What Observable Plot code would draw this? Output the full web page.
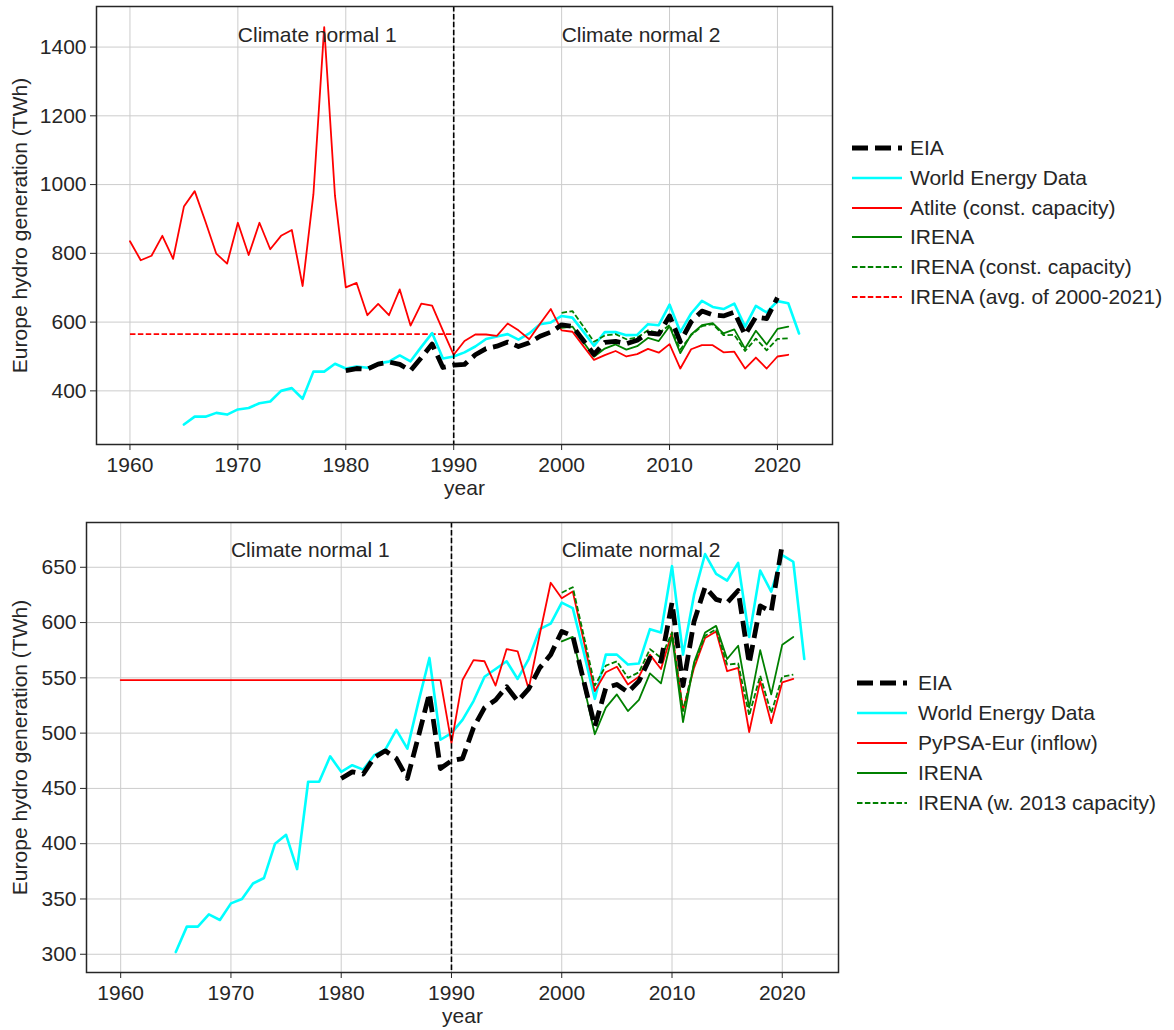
<!DOCTYPE html>
<html>
<head>
<meta charset="utf-8">
<script src="https://cdn.jsdelivr.net/npm/d3@7"></script>
<script src="https://cdn.jsdelivr.net/npm/@observablehq/plot@0.6"></script>
<style>
  body { margin: 0; background: #fff; }
  #wrap { position: relative; width: 1174px; height: 1030px; font-family: "Liberation Sans", Arial, sans-serif; color: #262626; }
  .panel { position: absolute; left: 0; }
  .legend { position: absolute; font-size: 21px; }
  .row { position: absolute; left: 0; display: flex; align-items: center; height: 30px; white-space: nowrap; }
  .row svg { display: block; }
</style>
</head>
<body>
<div id="wrap">
  <div id="top" class="panel" style="top:0"></div>
  <div id="bottom" class="panel" style="top:510px"></div>
  <div id="legendTop" class="legend" style="left:852px; top:133px"></div>
  <div id="legendBottom" class="legend" style="left:857px; top:668px"></div>
</div>
<script>
// Axis ticks
const xTicks = [1960, 1970, 1980, 1990, 2000, 2010, 2020];
const yTicksTop = [400, 600, 800, 1000, 1200, 1400];
const yTicksBottom = [300, 350, 400, 450, 500, 550, 600, 650];

// Annual European hydro generation, TWh
const yearsWED = d3.range(1965, 2023);
const worldEnergyData = [
  302, 325, 325, 336, 331, 346, 350, 364, 369, 400,
  408, 377, 456, 456, 479, 465, 471, 467, 480, 485,
  503, 486, 528, 568, 494, 500, 512, 529, 551, 558,
  565, 549, 567, 594, 599, 618, 613, 573, 531, 571,
  571, 562, 563, 594, 591, 651, 571, 625, 662, 644,
  638, 654, 587, 647, 628, 661, 655, 567
];

const yearsEIA = d3.range(1980, 2021);
const eia = [
  459, 465, 463, 478, 484, 477, 459, 497, 536, 468,
  475, 477, 505, 523, 530, 542, 529, 540, 559, 571,
  592, 588, 547, 506, 541, 544, 537, 547, 568, 565,
  618, 543, 601, 632, 621, 618, 629, 563, 615, 610,
  671
];

const yearsIRENA = d3.range(2000, 2022);
const irena = [
  583, 587, 543, 499, 523, 535, 520, 530, 554, 545,
  588, 510, 564, 591, 597, 567, 579, 523, 575, 535,
  580, 587
];
const irenaConstCapacity = [
  627, 632, 588, 543, 561, 565, 550, 555, 576, 568,
  591, 520, 562, 588, 594, 562, 563, 516, 552, 518,
  551, 553
];

const yearsModel = d3.range(1960, 2022);
const atliteConstCapacity = [
  835, 780, 793, 851, 784, 936, 981, 892, 799, 770,
  889, 795, 889, 812, 851, 868, 705, 972, 1458, 967,
  701, 714, 620, 653, 620, 695, 590, 654, 648, 575,
  505, 545, 564, 564, 560, 596, 576, 550, 595, 638,
  576, 572, 531, 490, 504, 516, 500, 507, 522, 511,
  536, 465, 521, 533, 533, 512, 514, 465, 497, 465,
  500, 505
];
const pypsaInflow = [
  548, 548, 548, 548, 548, 548, 548, 548, 548, 548,
  548, 548, 548, 548, 548, 548, 548, 548, 548, 548,
  548, 548, 548, 548, 548, 548, 548, 548, 548, 548,
  491, 548, 566, 565, 543, 576, 574, 540, 589, 636,
  622, 628, 583, 538, 555, 560, 544, 551, 571, 558,
  591, 521, 559, 586, 592, 556, 559, 501, 547, 509,
  546, 549
];

// Mean of the constant-capacity IRENA series over 2000-2021, drawn over the first climate normal
const irenaAvg = d3.mean(irenaConstCapacity);
const yearsAvg = [1960, 1990];

const zip = (xs, ys) => xs.map((x, i) => ({year: x, value: ys[i]}));

const ink = "#262626";
const font = '"Liberation Sans", Arial, sans-serif';
const fs = 21;
const thin = "5.5,2.4";

const styles = {
  eia: {stroke: "#000000", strokeWidth: 4.8, strokeDasharray: "16,7", strokeLinecap: "butt"},
  wed: {stroke: "#00ffff", strokeWidth: 2.6},
  red: {stroke: "#ff0000", strokeWidth: 1.8},
  green: {stroke: "#008000", strokeWidth: 1.8},
  greenDash: {stroke: "#008000", strokeWidth: 1.8, strokeDasharray: thin, strokeLinecap: "butt"},
  redDash: {stroke: "#ff0000", strokeWidth: 1.8, strokeDasharray: thin, strokeLinecap: "butt"}
};

function lineMark(data, st) {
  return Plot.line(data, {x: "year", y: "value", strokeLinejoin: "round", ...st});
}

function commonMarks(yTicks, labelDx) {
  return [
    Plot.gridX(xTicks, {stroke: "#cccccc", strokeOpacity: 1, strokeWidth: 1}),
    Plot.gridY(yTicks, {stroke: "#cccccc", strokeOpacity: 1, strokeWidth: 1}),
    Plot.axisX(xTicks, {tickSize: 6, tickPadding: 7, tickFormat: d => String(d), label: null, fill: ink, stroke: ink, fontSize: fs}),
    Plot.axisY(yTicks, {tickSize: 6, tickPadding: 4, tickFormat: d => String(d), label: null, fill: ink, stroke: ink, fontSize: fs}),
    Plot.text(["year"], {text: d => d, frameAnchor: "bottom", textAnchor: "middle", dy: 50, fontSize: fs, fill: ink}),
    Plot.text(["Europe hydro generation (TWh)"], {text: d => d, frameAnchor: "left", textAnchor: "middle", rotate: -90, dx: labelDx, fontSize: fs, fill: ink})
  ];
}

function annotations(yText) {
  return [
    Plot.ruleX([1990], {stroke: "#000000", strokeWidth: 1.6, strokeDasharray: thin}),
    Plot.text(["Climate normal 1"], {x: 1970, y: yText, text: d => d, textAnchor: "start", fontSize: fs, fill: ink}),
    Plot.text(["Climate normal 2"], {x: 2000, y: yText, text: d => d, textAnchor: "start", fontSize: fs, fill: ink}),
    Plot.frame({stroke: ink, strokeWidth: 1.5})
  ];
}

const xScale = {domain: [1956.9, 2025.1], ticks: xTicks};

// Upper panel: Atlite with constant capacity
const topPlot = Plot.plot({
  width: 840, height: 505,
  marginTop: 6, marginRight: 8, marginBottom: 61, marginLeft: 96,
  style: {fontFamily: font, fontSize: fs + "px", color: ink, background: "white", overflow: "visible"},
  x: xScale,
  y: {domain: [244, 1518]},
  marks: [
    ...commonMarks(yTicksTop, -76),
    lineMark(zip(yearsAvg, yearsAvg.map(() => irenaAvg)), styles.redDash),
    lineMark(zip(yearsWED, worldEnergyData), styles.wed),
    lineMark(zip(yearsModel, atliteConstCapacity), styles.red),
    lineMark(zip(yearsIRENA, irena), styles.green),
    lineMark(zip(yearsIRENA, irenaConstCapacity), styles.greenDash),
    lineMark(zip(yearsEIA, eia), styles.eia),
    ...annotations(1433)
  ]
});
document.getElementById("top").appendChild(topPlot);

// Lower panel: PyPSA-Eur inflow
const bottomPlot = Plot.plot({
  width: 840, height: 520,
  marginTop: 12, marginRight: 2, marginBottom: 58, marginLeft: 86,
  style: {fontFamily: font, fontSize: fs + "px", color: ink, background: "white", overflow: "visible"},
  x: xScale,
  y: {domain: [283.5, 690.5]},
  marks: [
    ...commonMarks(yTicksBottom, -66),
    lineMark(zip(yearsWED, worldEnergyData), styles.wed),
    lineMark(zip(yearsModel, pypsaInflow), styles.red),
    lineMark(zip(yearsIRENA, irena), styles.green),
    lineMark(zip(yearsIRENA, irenaConstCapacity), styles.greenDash),
    lineMark(zip(yearsEIA, eia), styles.eia),
    ...annotations(665.5)
  ]
});
document.getElementById("bottom").appendChild(bottomPlot);

// Legends
const legendTop = [
  ["EIA", styles.eia],
  ["World Energy Data", styles.wed],
  ["Atlite (const. capacity)", styles.red],
  ["IRENA", styles.green],
  ["IRENA (const. capacity)", styles.greenDash],
  ["IRENA (avg. of 2000-2021)", styles.redDash]
];
const legendBottom = [
  ["EIA", styles.eia],
  ["World Energy Data", styles.wed],
  ["PyPSA-Eur (inflow)", styles.red],
  ["IRENA", styles.green],
  ["IRENA (w. 2013 capacity)", styles.greenDash]
];

function buildLegend(el, items, sampleW, gap, step) {
  items.forEach(([label, st], i) => {
    const row = document.createElement("div");
    row.className = "row";
    row.style.top = (i * step) + "px";
    const ns = "http://www.w3.org/2000/svg";
    const svg = document.createElementNS(ns, "svg");
    svg.setAttribute("width", sampleW);
    svg.setAttribute("height", 30);
    const ln = document.createElementNS(ns, "line");
    ln.setAttribute("x1", 0); ln.setAttribute("x2", sampleW);
    ln.setAttribute("y1", 15); ln.setAttribute("y2", 15);
    ln.setAttribute("stroke", st.stroke);
    ln.setAttribute("stroke-width", st.strokeWidth);
    if (st.strokeDasharray) ln.setAttribute("stroke-dasharray", st.strokeDasharray);
    svg.appendChild(ln);
    const span = document.createElement("span");
    span.textContent = label;
    span.style.marginLeft = gap + "px";
    row.appendChild(svg);
    row.appendChild(span);
    el.appendChild(row);
  });
}
buildLegend(document.getElementById("legendTop"), legendTop, 50, 8, 29.8);
buildLegend(document.getElementById("legendBottom"), legendBottom, 50, 11, 30);
</script>
</body>
</html>
